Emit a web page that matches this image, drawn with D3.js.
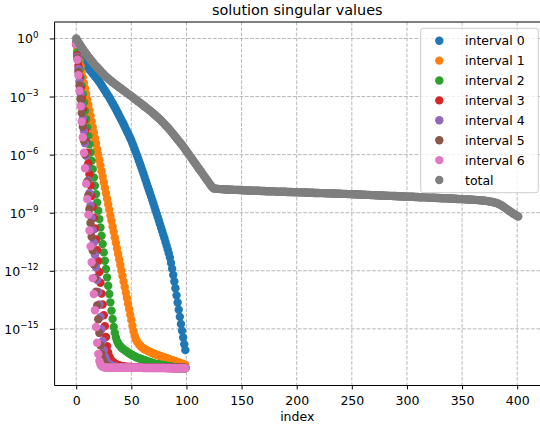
<!DOCTYPE html>
<html><head><meta charset="utf-8">
<script src="https://cdn.jsdelivr.net/npm/d3@7/dist/d3.min.js"></script>
<style>body{margin:0;background:#fff}svg{display:block}text{font-family:"DejaVu Sans",sans-serif}</style>
</head><body><svg id="c" width="540" height="432"></svg>
<script>
// ---- data (values are log10 of the singular value, index = position) ----
const seriesNames = ["interval 0","interval 1","interval 2","interval 3","interval 4","interval 5","interval 6","total"];
const seriesColors = ["#1f77b4","#ff7f0e","#2ca02c","#d62728","#9467bd","#8c564b","#e377c2","#7f7f7f"];
const xTickValues = [0,50,100,150,200,250,300,350,400];
const yTickExponents = [0,-3,-6,-9,-12,-15];
const titleText = "solution singular values";
const xLabelText = "index";

const interval0 = [-0.2,-0.4,-0.55,-0.7,-0.85,-0.98,-1.1,-1.2,-1.3,-1.38,
-1.46,-1.53,-1.6,-1.67,-1.74,-1.81,-1.88,-1.95,-2.02,-2.09,
-2.16,-2.25,-2.33,-2.42,-2.51,-2.6,-2.69,-2.78,-2.87,-2.96,
-3.05,-3.15,-3.25,-3.35,-3.45,-3.55,-3.66,-3.77,-3.88,-3.99,
-4.1,-4.21,-4.32,-4.43,-4.55,-4.67,-4.79,-4.91,-5.03,-5.15,
-5.27,-5.42,-5.57,-5.72,-5.87,-6.02,-6.18,-6.34,-6.5,-6.66,
-6.82,-6.99,-7.16,-7.33,-7.5,-7.67,-7.84,-8.01,-8.18,-8.35,
-8.52,-8.7,-8.88,-9.06,-9.24,-9.42,-9.6,-9.78,-9.96,-10.14,
-10.32,-10.51,-10.7,-10.9,-11.1,-11.32,-11.6,-11.9,-12.22,-12.55,
-12.9,-13.27,-13.64,-14.01,-14.38,-14.75,-15.1,-15.45,-15.8,-16.1];

const interval1 = [-0.3,-0.59,-0.87,-1.16,-1.44,-1.73,-2.01,-2.3,-2.58,-2.87,
-3.15,-3.44,-3.72,-4.01,-4.29,-4.58,-4.86,-5.15,-5.43,-5.72,
-6,-6.29,-6.57,-6.86,-7.14,-7.43,-7.71,-8,-8.28,-8.57,
-8.85,-9.14,-9.42,-9.71,-9.99,-10.28,-10.56,-10.85,-11.13,-11.42,
-11.7,-11.99,-12.27,-12.56,-12.84,-13.13,-13.41,-13.7,-13.98,-14.27,
-14.55,-14.84,-15.12,-15.35,-15.52,-15.64,-15.73,-15.8,-15.86,-15.92,
-15.97,-16.01,-16.05,-16.08,-16.11,-16.14,-16.17,-16.2,-16.22,-16.25,
-16.27,-16.3,-16.32,-16.34,-16.36,-16.38,-16.4,-16.42,-16.44,-16.46,
-16.48,-16.5,-16.52,-16.54,-16.56,-16.58,-16.6,-16.62,-16.64,-16.66,
-16.68,-16.7,-16.72,-16.74,-16.76,-16.78,-16.8,-16.82,-16.84,-16.86];

const interval2 = [-0.3,-0.73,-1.16,-1.59,-2.02,-2.45,-2.88,-3.31,-3.74,-4.17,
-4.6,-5.03,-5.46,-5.89,-6.32,-6.75,-7.18,-7.61,-8.04,-8.47,
-8.9,-9.33,-9.76,-10.19,-10.62,-11.05,-11.48,-11.91,-12.34,-12.77,
-13.2,-13.63,-14.06,-14.49,-14.9,-15.2,-15.45,-15.62,-15.74,-15.83,
-15.9,-15.96,-16.01,-16.06,-16.1,-16.14,-16.18,-16.22,-16.26,-16.3,
-16.33,-16.36,-16.39,-16.42,-16.45,-16.48,-16.5,-16.52,-16.54,-16.56,
-16.58,-16.6,-16.62,-16.64,-16.66,-16.68,-16.7,-16.72,-16.74,-16.76,
-16.78,-16.8,-16.81,-16.82,-16.83,-16.84,-16.85,-16.86,-16.87,-16.88,
-16.89,-16.9,-16.91,-16.92,-16.93,-16.94,-16.95,-16.96,-16.97,-16.98,
-16.99,-17,-17,-17.01,-17.01,-17.01,-17.02,-17.02,-17.02,-17.02];

const interval3 = [-0.3,-0.86,-1.42,-1.98,-2.54,-3.1,-3.66,-4.22,-4.78,-5.34,
-5.9,-6.46,-7.02,-7.58,-8.14,-8.7,-9.26,-9.82,-10.38,-10.94,
-11.5,-12.06,-12.62,-13.18,-13.74,-14.3,-14.86,-15.42,-15.9,-16.22,
-16.42,-16.55,-16.64,-16.7,-16.75,-16.79,-16.82,-16.85,-16.87,-16.89,
-16.91,-16.92,-16.93,-16.94,-16.95,-16.96,-16.97,-16.97,-16.97,-16.97,
-16.97,-16.98,-16.98,-16.98,-16.98,-16.98,-16.99,-16.99,-16.99,-16.99,
-16.99,-17,-17,-17,-17,-17,-17,-17,-17,-17,
-17,-17,-17,-17,-17,-17,-17.01,-17.01,-17.01,-17.01,
-17.01,-17.01,-17.01,-17.01,-17.01,-17.01,-17.01,-17.01,-17.02,-17.02,
-17.02,-17.02,-17.02,-17.02,-17.02,-17.02,-17.02,-17.02,-17.02,-17.02];

const interval4 = [-0.3,-0.94,-1.58,-2.22,-2.86,-3.5,-4.14,-4.78,-5.42,-6.06,
-6.7,-7.34,-7.98,-8.62,-9.26,-9.9,-10.54,-11.18,-11.82,-12.46,
-13.1,-13.74,-14.38,-15.02,-15.62,-16.1,-16.42,-16.6,-16.71,-16.78,
-16.83,-16.87,-16.9,-16.92,-16.94,-16.95,-16.96,-16.97,-16.98,-16.98,
-16.98,-16.98,-16.98,-16.98,-16.99,-16.99,-16.99,-16.99,-16.99,-16.99,
-16.99,-16.99,-17,-17,-17,-17,-17,-17,-17,-17,
-17,-17,-17,-17,-17,-17,-17,-17,-17,-17,
-17,-17,-17.01,-17.01,-17.01,-17.01,-17.01,-17.01,-17.01,-17.01,
-17.01,-17.01,-17.01,-17.01,-17.01,-17.01,-17.02,-17.02,-17.02,-17.02,
-17.02,-17.02,-17.02,-17.02,-17.02,-17.02,-17.02,-17.02,-17.02,-17.02];

const interval5 = [-0.3,-1.01,-1.72,-2.43,-3.14,-3.85,-4.56,-5.27,-5.98,-6.69,
-7.4,-8.11,-8.82,-9.53,-10.24,-10.95,-11.66,-12.37,-13.08,-13.79,
-14.5,-15.21,-15.85,-16.3,-16.58,-16.73,-16.82,-16.88,-16.92,-16.94,
-16.96,-16.97,-16.98,-16.99,-16.99,-16.99,-16.99,-16.99,-16.99,-16.99,
-17,-17,-17,-17,-17,-17,-17,-17,-17,-17,
-17,-17,-17,-17,-17,-17,-17,-17,-17,-17,
-17,-17,-17,-17,-17,-17.01,-17.01,-17.01,-17.01,-17.01,
-17.01,-17.01,-17.01,-17.01,-17.01,-17.01,-17.01,-17.01,-17.01,-17.01,
-17.01,-17.01,-17.01,-17.02,-17.02,-17.02,-17.02,-17.02,-17.02,-17.02,
-17.02,-17.02,-17.02,-17.02,-17.02,-17.02,-17.02,-17.02,-17.02,-17.02];

const interval6 = [-0.3,-1.1,-1.9,-2.7,-3.5,-4.3,-5.1,-5.9,-6.7,-7.5,
-8.3,-9.1,-9.92,-10.74,-11.56,-12.38,-13.2,-14.04,-14.9,-15.72,
-16.3,-16.66,-16.84,-16.92,-16.96,-16.98,-16.99,-17,-17,-17,
-17,-17,-17,-17,-17,-17,-17,-17,-17,-17,
-17,-17.01,-17.01,-17.01,-17.01,-17.01,-17.01,-17.01,-17.01,-17.01,
-17.01,-17.01,-17.01,-17.01,-17.01,-17.01,-17.01,-17.01,-17.01,-17.01,
-17.01,-17.02,-17.02,-17.02,-17.02,-17.02,-17.02,-17.02,-17.02,-17.02,
-17.02,-17.02,-17.02,-17.02,-17.02,-17.02,-17.02,-17.02,-17.02,-17.02,
-17.02,-17.03,-17.03,-17.03,-17.03,-17.03,-17.03,-17.03,-17.03,-17.03,
-17.03,-17.03,-17.03,-17.03,-17.03,-17.03,-17.03,-17.03,-17.03,-17.03];

const totalValues = [0,-0.1,-0.2,-0.29,-0.38,-0.47,-0.55,-0.63,-0.71,-0.79,
-0.87,-0.95,-1.02,-1.09,-1.16,-1.23,-1.3,-1.37,-1.43,-1.49,
-1.55,-1.61,-1.67,-1.74,-1.8,-1.86,-1.92,-1.97,-2.02,-2.07,
-2.12,-2.17,-2.21,-2.26,-2.3,-2.35,-2.39,-2.43,-2.48,-2.52,
-2.56,-2.6,-2.65,-2.69,-2.73,-2.77,-2.82,-2.86,-2.9,-2.94,
-2.98,-3.03,-3.07,-3.11,-3.16,-3.2,-3.24,-3.29,-3.33,-3.37,
-3.42,-3.46,-3.51,-3.55,-3.6,-3.64,-3.69,-3.73,-3.78,-3.83,
-3.88,-3.93,-3.98,-4.03,-4.08,-4.13,-4.18,-4.24,-4.3,-4.36,
-4.42,-4.48,-4.54,-4.6,-4.66,-4.73,-4.8,-4.87,-4.94,-5.01,
-5.08,-5.15,-5.22,-5.29,-5.36,-5.43,-5.5,-5.58,-5.66,-5.74,
-5.82,-5.9,-5.98,-6.06,-6.14,-6.22,-6.3,-6.38,-6.46,-6.54,
-6.62,-6.7,-6.78,-6.86,-6.94,-7.02,-7.1,-7.18,-7.26,-7.34,
-7.42,-7.5,-7.58,-7.66,-7.73,-7.75,-7.76,-7.76,-7.77,-7.77,
-7.78,-7.78,-7.78,-7.79,-7.79,-7.79,-7.8,-7.8,-7.8,-7.81,
-7.81,-7.81,-7.81,-7.82,-7.82,-7.82,-7.82,-7.83,-7.83,-7.83,
-7.83,-7.84,-7.84,-7.84,-7.84,-7.85,-7.85,-7.85,-7.85,-7.86,
-7.86,-7.86,-7.86,-7.87,-7.87,-7.87,-7.87,-7.88,-7.88,-7.88,
-7.88,-7.88,-7.89,-7.89,-7.89,-7.89,-7.9,-7.9,-7.9,-7.9,
-7.9,-7.91,-7.91,-7.91,-7.91,-7.91,-7.92,-7.92,-7.92,-7.92,
-7.92,-7.93,-7.93,-7.93,-7.93,-7.93,-7.94,-7.94,-7.94,-7.94,
-7.94,-7.95,-7.95,-7.95,-7.95,-7.95,-7.96,-7.96,-7.96,-7.96,
-7.96,-7.97,-7.97,-7.97,-7.97,-7.97,-7.98,-7.98,-7.98,-7.98,
-7.98,-7.99,-7.99,-7.99,-7.99,-7.99,-8,-8,-8,-8,
-8,-8.01,-8.01,-8.01,-8.01,-8.01,-8.02,-8.02,-8.02,-8.02,
-8.02,-8.03,-8.03,-8.03,-8.03,-8.03,-8.04,-8.04,-8.04,-8.04,
-8.04,-8.05,-8.05,-8.05,-8.05,-8.06,-8.06,-8.06,-8.06,-8.07,
-8.07,-8.07,-8.07,-8.08,-8.08,-8.08,-8.08,-8.09,-8.09,-8.09,
-8.09,-8.1,-8.1,-8.1,-8.1,-8.11,-8.11,-8.11,-8.11,-8.12,
-8.12,-8.12,-8.12,-8.13,-8.13,-8.13,-8.13,-8.14,-8.14,-8.14,
-8.14,-8.15,-8.15,-8.15,-8.15,-8.16,-8.16,-8.16,-8.16,-8.17,
-8.17,-8.17,-8.17,-8.18,-8.18,-8.18,-8.18,-8.19,-8.19,-8.19,
-8.19,-8.2,-8.2,-8.2,-8.2,-8.21,-8.21,-8.21,-8.21,-8.22,
-8.22,-8.22,-8.22,-8.23,-8.23,-8.23,-8.23,-8.24,-8.24,-8.24,
-8.24,-8.25,-8.25,-8.25,-8.25,-8.26,-8.26,-8.26,-8.27,-8.27,
-8.27,-8.27,-8.28,-8.28,-8.28,-8.29,-8.29,-8.29,-8.3,-8.3,
-8.3,-8.3,-8.31,-8.31,-8.31,-8.32,-8.32,-8.32,-8.33,-8.33,
-8.33,-8.34,-8.34,-8.34,-8.35,-8.35,-8.36,-8.36,-8.37,-8.37,
-8.38,-8.38,-8.39,-8.4,-8.41,-8.42,-8.43,-8.44,-8.45,-8.47,
-8.48,-8.5,-8.52,-8.54,-8.57,-8.6,-8.63,-8.67,-8.71,-8.75,
-8.79,-8.83,-8.87,-8.91,-8.95,-8.99,-9.03,-9.07,-9.1,-9.13,
-9.17,-9.2];

const seriesData = [interval0, interval1, interval2, interval3, interval4, interval5, interval6, totalValues];

// ---- layout ----
const svg = d3.select('#c');
const L = 54.1, R = 540.4, T = 22, B = 385;
const x = d3.scaleLinear().domain([-20.05, 421.05]).range([L, R]);
const y = d3.scaleLog().domain([Math.pow(10,-17.9), Math.pow(10,0.85)]).range([B, T]);
const FS = 12.5;

svg.append('rect').attr('width',540).attr('height',432).attr('fill','#fff');

// grid
const grid = svg.append('g').attr('stroke','#b0b0b0').attr('stroke-width',0.9).attr('stroke-dasharray','3.7,1.6');
grid.selectAll('line.gx').data(xTickValues).join('line')
  .attr('x1',d=>x(d)).attr('x2',d=>x(d)).attr('y1',T).attr('y2',B);
grid.selectAll('line.gy').data(yTickExponents).join('line')
  .attr('x1',L).attr('x2',R).attr('y1',d=>y(Math.pow(10,d))).attr('y2',d=>y(Math.pow(10,d)));

// clip
svg.append('clipPath').attr('id','clip').append('rect').attr('x',L).attr('y',T).attr('width',R-L).attr('height',B-T);

const plot = svg.append('g').attr('clip-path','url(#clip)');
seriesData.forEach((arr,k)=>{
  plot.append('g').attr('fill',seriesColors[k])
    .selectAll('circle').data(arr).join('circle')
    .attr('cx',(d,i)=>x(i)).attr('cy',d=>y(Math.pow(10,d))).attr('r',4.2);
});

// axes
const gx = svg.append('g').attr('transform',`translate(0,${B})`)
  .call(d3.axisBottom(x).tickValues(xTickValues).tickSize(4.4).tickSizeOuter(0));
gx.select('.domain').attr('stroke','#000').attr('stroke-width',1);
gx.selectAll('.tick line').attr('stroke','#000').attr('stroke-width',1);
gx.selectAll('.tick text').attr('y',20).attr('dy',0).attr('font-size',FS).attr('font-family','DejaVu Sans').attr('fill','#000');

const gy = svg.append('g').attr('transform',`translate(${L},0)`)
  .call(d3.axisLeft(y).tickValues(yTickExponents.map(e=>Math.pow(10,e))).tickSize(4.4).tickSizeOuter(0).tickFormat(()=>''));
gy.select('.domain').attr('stroke','#000').attr('stroke-width',1);
gy.selectAll('.tick line').attr('stroke','#000').attr('stroke-width',1);

const ylab = svg.append('g').attr('font-size',FS).attr('fill','#000');
yTickExponents.forEach(e=>{
  const t = ylab.append('text').attr('x',38.5).attr('y',y(Math.pow(10,e))+5).attr('text-anchor','end');
  t.append('tspan').text('10');
  t.append('tspan').attr('dy',-5.5).attr('font-size',8.7).text(e===0?'0':'\u2212'+(-e));
});

// top spine
svg.append('line').attr('x1',L).attr('x2',R).attr('y1',T).attr('y2',T).attr('stroke','#000').attr('stroke-width',1);

// title & label
svg.append('text').attr('x',(L+R)/2).attr('y',15).attr('text-anchor','middle').attr('font-size',14.4).text(titleText);
svg.append('text').attr('x',(L+R)/2).attr('y',421).attr('text-anchor','middle').attr('font-size',FS).text(xLabelText);

// legend
const lg = svg.append('g');
lg.append('rect').attr('x',420.7).attr('y',28.3).attr('width',117.6).attr('height',164.4).attr('rx',2.5)
  .attr('fill','#fff').attr('fill-opacity',0.8).attr('stroke','#cccccc').attr('stroke-width',1);
seriesNames.forEach((n,i)=>{
  const cy = 40.7 + i*19.9;
  lg.append('circle').attr('cx',439.3).attr('cy',cy).attr('r',4.2).attr('fill',seriesColors[i]);
  lg.append('text').attr('x',465).attr('y',cy+4.5).attr('font-size',FS).text(n);
});
</script></body></html>
